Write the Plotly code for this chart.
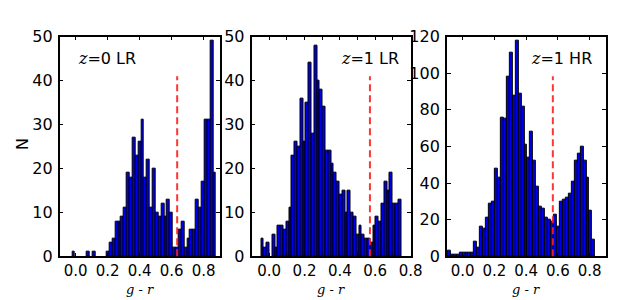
import plotly.graph_objects as go

W, H = 621, 300

# ---------------- data ----------------
panel_labels = ["=0 LR", "=1 LR", "=1 HR"]

# histogram definition: first bin left edge, bin width, counts per bin
p1_bin_start = -0.0217
p1_bin_width = 0.0180
p1_counts = [1, 0, 0, 0, 0, 1, 0, 1, 0, 0, 0, 0,
             1, 3, 4, 8, 8, 9, 11, 19, 18, 27, 23, 26, 31, 18, 22, 11, 20, 10,
             9, 12, 9, 13, 10, 2, 2, 6, 8, 2, 4, 6, 6, 13, 11, 17, 31, 31, 49, 19]

p2_bin_start = -0.046
p2_bin_width = 0.01586
p2_counts = [4, 2, 3, 0, 5, 2, 7, 7, 6, 8,
             11, 23, 26, 25, 36, 26, 35, 44, 28, 48,
             40, 38, 34, 24, 24, 21, 19, 17, 14, 15,
             10, 15, 10, 9, 5, 7, 5, 4, 4, 3,
             7, 9, 8, 12, 17, 15, 19, 12, 12, 13]

p3_bin_start = -0.095
p3_bin_width = 0.0186
p3_counts = [3, 1, 1, 1, 2, 2, 2, 2, 2,
             8, 5, 16, 15, 21, 29, 30, 48, 43, 76, 75, 98, 111, 88, 118,
             89, 82, 61, 54, 68, 52, 38, 27, 26, 21, 20, 19,
             23, 16, 30, 31, 32, 34, 41, 52, 56, 60, 52, 43, 25, 9]

cuts = [0.635, 0.570, 0.568]

x_ranges = [[-0.1, 0.9], [-0.1, 0.8], [-0.1, 0.9]]
y_ranges = [[0, 50], [0, 50], [0, 120]]
y_dticks = [10, 10, 20]

p1_xticks = [0.0, 0.2, 0.4, 0.6, 0.8]
p1_xtext = ["0.0", "0.2", "0.4", "0.6", "0.8"]
p2_xticks = [0.0, 0.1, 0.2, 0.3, 0.4, 0.5, 0.6, 0.7, 0.8]
p2_xtext = ["0.0", "", "0.2", "", "0.4", "", "0.6", "", "0.8"]
p3_xticks = [0.0, 0.2, 0.4, 0.6, 0.8]
p3_xtext = ["0.0", "0.2", "0.4", "0.6", "0.8"]

# ---------------- layout geometry (pixels) ----------------
panels_px = [(52.7, 215.7), (248.3, 410.5), (447.5, 609.3)]
plot_top, plot_bottom = 21.0, 255.5

fig = go.Figure()

hists = [(p1_bin_start, p1_bin_width, p1_counts),
         (p2_bin_start, p2_bin_width, p2_counts),
         (p3_bin_start, p3_bin_width, p3_counts)]
xticks = [(p1_xticks, p1_xtext), (p2_xticks, p2_xtext), (p3_xticks, p3_xtext)]

font = dict(family="DejaVu Sans", size=16, color="black")
xfont = dict(family="DejaVu Sans", size=15, color="black")
layout = dict(
    width=W, height=H,
    margin=dict(l=0, r=0, t=0, b=0),
    paper_bgcolor="white", plot_bgcolor="white",
    showlegend=False, bargap=0, font=font,
)

shapes = []
annotations = []
for i, (start, width, counts) in enumerate(hists):
    centers = [start + (k + 0.5) * width for k in range(len(counts))]
    heights = [c if c > 0 else None for c in counts]
    sfx = "" if i == 0 else str(i + 1)
    fig.add_trace(go.Bar(
        x=centers, y=heights, width=width,
        marker=dict(color="#0000e8", line=dict(color="black", width=1)),
        xaxis="x" + sfx, yaxis="y" + sfx, hoverinfo="skip",
    ))
    x0, x1 = panels_px[i]
    tv, tt = xticks[i]
    axis_common = dict(
        showline=True, linecolor="black", linewidth=1.5, mirror="ticks",
        ticks="inside", ticklen=4, tickwidth=1, tickcolor="black",
        showgrid=False, zeroline=False,
    )
    layout["xaxis" + sfx] = dict(
        domain=[x0 / W, x1 / W], range=x_ranges[i],
        anchor="y" + sfx, tickmode="array", tickvals=tv, ticktext=tt,
        ticklabelstandoff=0, tickfont=xfont, **axis_common)
    layout["yaxis" + sfx] = dict(
        domain=[1 - plot_bottom / H, 1 - plot_top / H], range=y_ranges[i],
        anchor="x" + sfx, dtick=y_dticks[i], tick0=0,
        ticklabelstandoff=2, tickfont=font, **axis_common)

    # red dashed division line
    shapes.append(dict(
        type="line", xref="x" + sfx, yref="y" + sfx + " domain",
        x0=cuts[i], x1=cuts[i], y0=0, y1=0.82,
        line=dict(color="rgba(255,30,30,0.9)", width=2, dash="7px,4px"),
    ))
    # x axis label
    annotations.append(dict(
        xref="paper", yref="paper", x=(x0 + x1) / 2 / W, y=1 - 291 / H,
        text="<i>g</i> - <i>r</i>", showarrow=False,
        font=dict(family="DejaVu Serif", size=13, color="black"),
        xanchor="center", yanchor="middle",
    ))

# panel labels
ztxt = '<span style="font-family:DejaVu Serif;font-style:italic">z</span>'
annotations.append(dict(xref="paper", yref="paper", x=69 / W, y=1 - 44 / H,
                        text=ztxt + panel_labels[0], showarrow=False,
                        font=dict(family="DejaVu Sans", size=16, color="black"),
                        xanchor="left", yanchor="middle"))
annotations.append(dict(xref="paper", yref="paper", x=401 / W, y=1 - 44 / H,
                        text=ztxt + panel_labels[1], showarrow=False,
                        font=dict(family="DejaVu Sans", size=16, color="black"),
                        xanchor="right", yanchor="middle"))
annotations.append(dict(xref="paper", yref="paper", x=598 / W, y=1 - 44 / H,
                        text=ztxt + panel_labels[2], showarrow=False,
                        font=dict(family="DejaVu Sans", size=16, color="black"),
                        xanchor="right", yanchor="middle"))
# y axis label
annotations.append(dict(xref="paper", yref="paper", x=15 / W, y=1 - 136 / H,
                        text="N", showarrow=False, textangle=-90,
                        font=dict(family="DejaVu Sans", size=16, color="black"),
                        xanchor="center", yanchor="middle"))

layout["shapes"] = shapes
layout["annotations"] = annotations
fig.update_layout(**layout)
fig.write_html("out.html")
